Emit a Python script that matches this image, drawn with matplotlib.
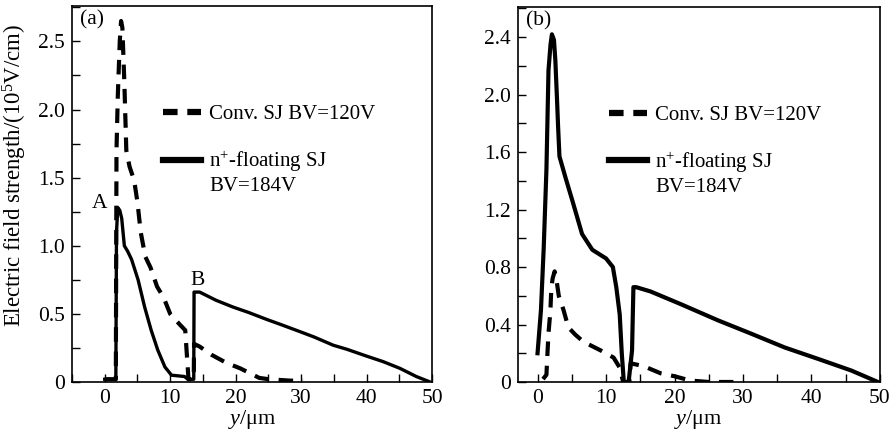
import matplotlib
matplotlib.use("Agg")
import matplotlib.pyplot as plt
from matplotlib.ticker import MultipleLocator, FuncFormatter

plt.rcParams['font.family'] = ['Liberation Serif', 'DejaVu Serif']
plt.rcParams['mathtext.fontset'] = 'custom'
plt.rcParams['mathtext.rm'] = 'Liberation Serif'
plt.rcParams['mathtext.it'] = 'Liberation Serif:italic'
plt.rcParams['lines.scale_dashes'] = False

# panel (a)
a_float_x = [0, 1.7, 1.8, 2.0, 2.3, 2.6, 3.0, 3.5, 4.1, 5.1, 6.1, 7.1, 8.1, 9.2, 10.2,
             12.2, 12.7, 13.6, 13.65, 14.5, 17, 19.6, 22, 24.7, 27, 29.8, 32, 34.9, 37,
             40, 42.5, 45.1, 47.6, 49.7]
a_float_e = [0.02, 0.02, 1.1, 1.28, 1.26, 1.2, 1.0, 0.96, 0.90, 0.75, 0.55, 0.38, 0.235,
             0.11, 0.05, 0.04, 0.02, 0.02, 0.66, 0.66, 0.60, 0.55, 0.51, 0.46, 0.42, 0.37,
             0.33, 0.27, 0.24, 0.19, 0.15, 0.10, 0.04, 0.0]
a_conv_x = [0, 1.7, 1.8, 2.0, 2.3, 2.5, 2.7, 3.0, 3.3, 3.8, 4.5, 5.0, 5.5, 6.2, 7.0, 8.0,
            9.0, 10.0, 11.5, 12.3, 12.8, 13.6, 13.65, 14.5, 16.3, 18.6, 20.7, 23.6, 25.1,
            28.3, 30.3]
a_conv_e = [0.02, 0.02, 1.7, 2.1, 2.5, 2.65, 2.6, 2.2, 1.7, 1.58, 1.48, 1.32, 1.1, 0.92,
            0.84, 0.70, 0.62, 0.50, 0.42, 0.38, 0.02, 0.02, 0.28, 0.26, 0.20, 0.14, 0.10,
            0.03, 0.02, 0.01, 0.01]

# panel (b)
b_float_x = [0.0, 0.15, 0.5, 0.9, 1.3, 1.6, 1.9, 2.1, 2.4, 2.6, 2.85, 3.0, 3.2, 4.1, 5.1,
             6.5, 8.0, 10.0, 11.0, 11.5, 12.0, 12.3, 12.6, 13.3, 13.8, 14.0, 14.4, 16.5,
             21, 26.3, 31, 36.1, 41, 45.8, 49.7]
b_float_e = [0.2, 0.29, 0.5, 0.93, 1.48, 2.17, 2.35, 2.42, 2.38, 2.24, 1.96, 1.78, 1.57,
             1.42, 1.26, 1.03, 0.92, 0.86, 0.80, 0.66, 0.47, 0.2, 0.0, 0.0, 0.22, 0.66,
             0.66, 0.63, 0.54, 0.43, 0.34, 0.24, 0.16, 0.08, 0.0]
b_conv_x = [0.8, 1.3, 1.45, 1.6, 1.8, 1.9, 2.0, 2.2, 2.5, 2.8, 3.1, 3.8, 4.5, 5.5, 6.7,
            9.2, 11.1, 12.0, 12.5, 13.4, 13.6, 15.5, 18.0, 20.0, 22.3, 25, 28.6]
b_conv_e = [0.02, 0.05, 0.2, 0.34, 0.45, 0.52, 0.64, 0.72, 0.77, 0.7, 0.6, 0.5, 0.38,
            0.33, 0.28, 0.22, 0.17, 0.1, 0.0, 0.0, 0.13, 0.11, 0.06, 0.04, 0.01, 0.0, 0.0]

conv_label = "Conv. SJ BV=120V"
float_label = "n$^{+}$-floating SJ"
float_label2 = "BV=184V"

fig = plt.figure(figsize=(8.93, 4.37), dpi=100)
ax1 = fig.add_axes([0.0806, 0.1259, 0.4032, 0.8603])
ax2 = fig.add_axes([0.5797, 0.1259, 0.4057, 0.8581])

dash = (0, (10.5, 7.0))


def style(ax, xmin, ymax, ymajor, yminor, panel):
    ax.set_xlim(xmin, 50)
    ax.set_ylim(0, ymax)
    ax.xaxis.set_major_locator(MultipleLocator(10))
    ax.xaxis.set_minor_locator(MultipleLocator(5))
    ax.yaxis.set_major_locator(MultipleLocator(ymajor))
    ax.yaxis.set_minor_locator(MultipleLocator(yminor))
    ax.yaxis.set_major_formatter(FuncFormatter(lambda v, p: "0" if abs(v) < 1e-9 else f"{v:.1f}"))
    ax.tick_params(which='both', direction='in', top=False, right=False,
                   length=6, width=1, labelsize=15.5, pad=5)
    for s in ax.spines.values():
        s.set_linewidth(1.2)
    ax.set_xlabel("$y$/μm", fontsize=16, labelpad=0)
    ax.text(0.022, 0.988, panel, transform=ax.transAxes, fontsize=15.5, va='top', ha='left')
    # legend
    h1, = ax.plot([], [], color='black', lw=4.5, linestyle=dash)
    hb, = ax.plot([], [], color='none')
    h2, = ax.plot([], [], color='black', lw=4.5)
    h3, = ax.plot([], [], color='none')
    leg = ax.legend([h1, hb, h2, h3], [conv_label, " ", float_label, float_label2],
                    loc='upper left', bbox_to_anchor=(0.23, 0.76), frameon=False,
                    fontsize=15, handlelength=1.8, handletextpad=0.4, labelspacing=0.12,
                    borderaxespad=0)
    return leg


ax1.plot(a_conv_x, a_conv_e, color='black', lw=3, linestyle=dash)
ax1.plot(a_float_x, a_float_e, color='black', lw=2.4)
style(ax1, -5, 2.76, 0.5, 0.25, "(a)")
ax1.set_ylabel("Electric field strength/(10$^{5}$V/cm)", fontsize=16.5)
ax1.yaxis.set_label_coords(-0.12, 0.55)
ax1.text(-0.8, 1.24, "A", fontsize=15.5, ha='center', va='bottom')
ax1.text(14.2, 0.675, "B", fontsize=15.5, ha='center', va='bottom')

ax2.plot(b_conv_x, b_conv_e, color='black', lw=3, linestyle=dash)
ax2.plot(b_float_x, b_float_e, color='black', lw=3)
style(ax2, -2.9, 2.61, 0.4, 0.2, "(b)")

fig.savefig("out.png", dpi=100)
